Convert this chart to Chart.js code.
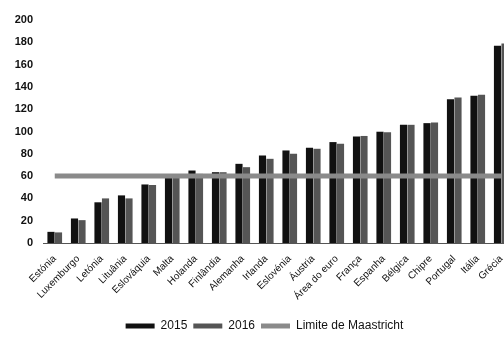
<!DOCTYPE html>
<html>
<head>
<meta charset="utf-8">
<script src="https://cdn.jsdelivr.net/npm/chart.js@4/dist/chart.umd.min.js"></script>
<style>
  html, body { margin: 0; padding: 0; background: #fff; }
  #wrap { width: 504px; height: 338px; overflow: hidden; }
</style>
</head>
<body>
<div id="wrap"><canvas id="debtChart" width="516" height="338"></canvas></div>
<script>
const countries = [
    'Estónia', 'Luxemburgo', 'Letónia', 'Lituânia', 'Eslováquia', 'Malta', 'Holanda',
    'Finlândia', 'Alemanha', 'Irlanda', 'Eslovénia', 'Áustria', 'Área do euro', 'França',
    'Espanha', 'Bélgica', 'Chipre', 'Portugal', 'Itália', 'Grécia',
];
const debt2015 = [10, 22, 36.5, 42.7, 52.5, 60.8, 65, 63.5, 71, 78.5, 83, 85.5, 90.5, 95.6, 99.8, 106, 107.5, 129, 132, 177];
const debt2016 = [9.5, 20.5, 40, 40, 52, 58.5, 62, 63.5, 68, 75.5, 80, 84.5, 89, 96, 99.4, 106, 108, 130.5, 133, 179];
const maastricht = countries.map(() => 60);

// nudge legend to the right, the canvas is wider than the visible page
const legendShift = {
    id: 'legendShift',
    afterLayout(chart) {
        chart.legend.left += 8;
        chart.legend.right += 8;
    }
};

const debtChart = new Chart(document.getElementById('debtChart'), {
    data: {
        labels: countries,
        datasets: [
            {
                type: 'bar',
                label: '2015',
                data: debt2015,
                backgroundColor: '#111111',
                categoryPercentage: 0.64,
                barPercentage: 0.95,
                order: 1,
            },
            {
                type: 'bar',
                label: '2016',
                data: debt2016,
                backgroundColor: '#555555',
                categoryPercentage: 0.64,
                barPercentage: 0.95,
                order: 1,
            },
            {
                type: 'line',
                label: 'Limite de Maastricht',
                data: maastricht,
                borderColor: '#8a8a8a',
                backgroundColor: '#8a8a8a',
                borderWidth: 5,
                pointRadius: 0,
                order: 0,
            },
        ]
    },
    options: {
        responsive: false,
        animation: false,
        layout: {
            padding: { top: 20, right: 3, left: 0, bottom: -4 },
        },
        plugins: {
            tooltip: { enabled: false },
            legend: {
                position: 'bottom',
                labels: {
                    sort: (a, b) => a.datasetIndex - b.datasetIndex,
                    generateLabels: (chart) => Chart.defaults.plugins.legend.labels
                        .generateLabels(chart)
                        .map((item) => ({ ...item, lineWidth: 0 })),
                    boxWidth: 29,
                    boxHeight: 5,
                    padding: 6,
                    color: '#111',
                    font: { family: 'Liberation Sans', size: 12 },
                },
            },
        },
        scales: {
            x: {
                grid: { display: false },
                border: { color: '#555', dash: [1, 2], width: 1 },
                ticks: {
                    color: '#111',
                    minRotation: 45,
                    maxRotation: 45,
                    autoSkip: false,
                    padding: 2,
                    font: { family: 'Liberation Sans', size: 10 },
                },
                afterFit(scale) {
                    scale.height = 71;
                },
            },
            y: {
                min: 0,
                max: 200,
                grid: { display: false, drawTicks: false },
                border: { display: false },
                ticks: {
                    stepSize: 20,
                    padding: 10,
                    color: '#111',
                    font: { family: 'Liberation Sans', size: 11, weight: 'bold' },
                },
                afterFit(scale) {
                    scale.width = 43;
                },
            },
        },
    },
    plugins: [legendShift],
});
</script>
</body>
</html>
